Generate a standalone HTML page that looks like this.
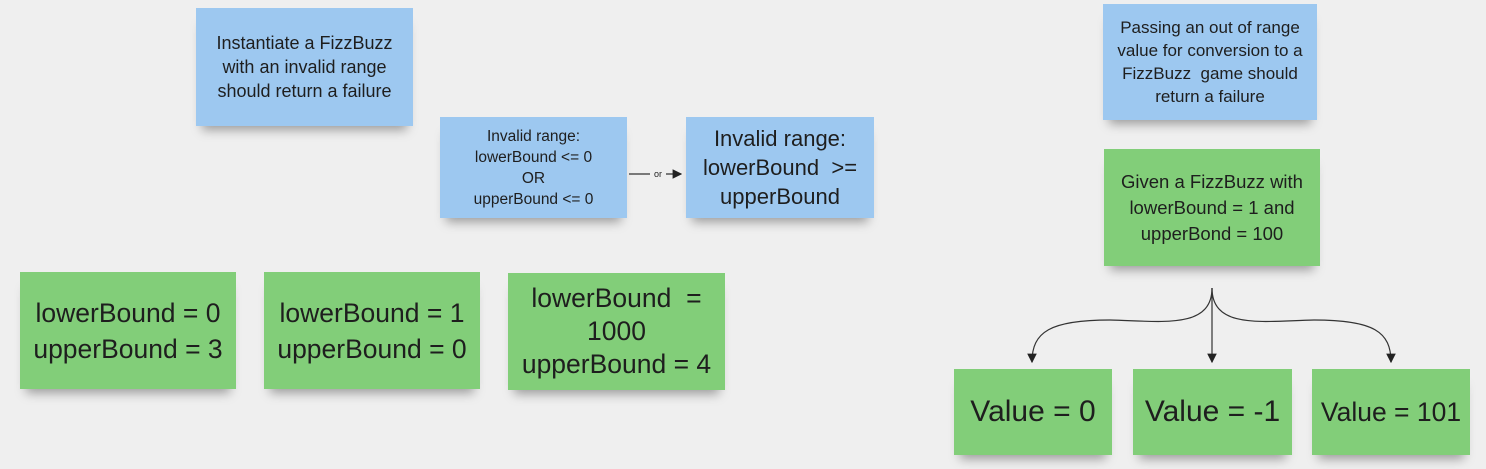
<!DOCTYPE html>
<html><head><meta charset="utf-8"><style>
body{margin:0;width:1486px;height:469px;background:#efefef;position:relative;overflow:hidden;font-family:"Liberation Sans",sans-serif;color:#1e1e1e}
.n{position:absolute;display:flex;align-items:center;justify-content:center;text-align:center;box-shadow:0 10px 10px -6px rgba(0,0,0,0.35);white-space:nowrap}
.b{background:#9dc8f0}.g{background:#82ce79}
svg{position:absolute;left:0;top:0}
</style></head><body>
<div class="n b" style="left:196px;top:8px;width:217px;height:118px;font-size:18px;line-height:24px">Instantiate a FizzBuzz<br>with an invalid range<br>should return a failure</div>
<div class="n b" style="left:440px;top:117px;width:187px;height:101px;font-size:15.5px;line-height:21px">Invalid range:<br>lowerBound &lt;= 0<br>OR<br>upperBound &lt;= 0</div>
<div class="n b" style="left:686px;top:117px;width:188px;height:101px;font-size:22px;line-height:29px">Invalid range:<br>lowerBound &nbsp;&gt;=<br>upperBound</div>
<div class="n b" style="left:1103px;top:4px;width:214px;height:116px;font-size:17px;line-height:23px">Passing an out of range<br>value for conversion to a<br>FizzBuzz &nbsp;game should<br>return a failure</div>
<div class="n g" style="left:1104px;top:149px;width:216px;height:117px;font-size:18.5px;line-height:26px">Given a FizzBuzz with<br>lowerBound = 1 and<br>upperBond = 100</div>
<div class="n g" style="left:20px;top:272px;width:216px;height:117px;font-size:26.5px;line-height:36px">lowerBound = 0<br>upperBound = 3</div>
<div class="n g" style="left:264px;top:272px;width:216px;height:117px;font-size:26.5px;line-height:36px">lowerBound = 1<br>upperBound = 0</div>
<div class="n g" style="left:508px;top:273px;width:217px;height:117px;font-size:26.5px;line-height:33px">lowerBound &nbsp;=<br>1000<br>upperBound = 4</div>
<div class="n g" style="left:954px;top:369px;width:158px;height:86px;font-size:30px">Value = 0</div>
<div class="n g" style="left:1133px;top:369px;width:159px;height:86px;font-size:30px">Value = -1</div>
<div class="n g" style="left:1312px;top:369px;width:158px;height:86px;font-size:26.5px">Value = 101</div>
<svg width="1486" height="469">
<defs><marker id="a" markerWidth="8" markerHeight="8" refX="7" refY="4" orient="auto"><path d="M0,0L8,4L0,8z" fill="#222"/></marker></defs>
<g stroke="#333" stroke-width="1.2" fill="none">
<path d="M629,174H650M666,174H681" marker-end="url(#a)"/>
<path d="M1212,288C1212,330 1160,321 1110,320C1050,320 1032,332 1032,362" marker-end="url(#a)"/>
<path d="M1212,288V362" marker-end="url(#a)"/>
<path d="M1212,288C1212,330 1264,321 1314,320C1374,320 1391,332 1391,362" marker-end="url(#a)"/>
</g>
<text x="658" y="177" font-size="9" text-anchor="middle" font-family="Liberation Sans" fill="#222">or</text>
</svg>
</body></html>
